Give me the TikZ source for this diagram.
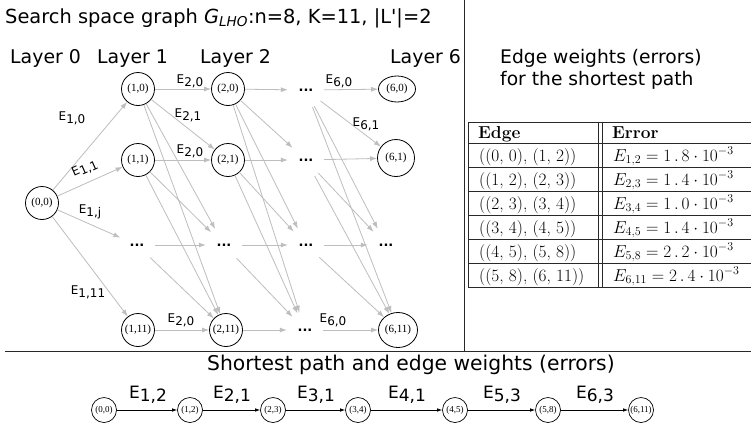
\documentclass[tikz,border=0pt]{standalone}
\usepackage{fontspec}
\newfontfamily\vfont{DejaVu Sans}
\newfontfamily\tfont{Liberation Serif}
\usetikzlibrary{arrows.meta,shapes.geometric}
\definecolor{edgegray}{RGB}{190,190,190}
\definecolor{rulegray}{RGB}{40,40,40}
\newcommand\Esub[1]{E\raisebox{-0.22em}{#1}}
\newcommand\vsz[1]{\vfont\fontsize{#1}{#1}\selectfont}
\newcommand\errval[4]{$E_{#1} = #2\mkern3mu.\mkern3mu#3 \mathbin{\cdot} 10^{-#4}$}
\begin{document}
\begin{tikzpicture}[x=1pt,y=-1pt,
 gnode/.style={circle,draw,line width=0.8pt,minimum size=33pt,inner sep=0pt,font=\tfont\fontsize{11}{11}\selectfont},
 enode/.style={ellipse,draw,line width=0.8pt,inner sep=0pt,font=\tfont\fontsize{11}{11}\selectfont},
 dnode/.style={circle,minimum size=36pt,inner sep=0pt,font=\vsz{13}\bfseries},
 ge/.style={draw=edgegray,line width=0.8pt,-{Latex[length=7pt,width=5pt]}},
 elab/.style={font=\vsz{12},inner sep=0pt},
 hdr/.style={anchor=base west,inner sep=0pt},
 pnode/.style={circle,draw,line width=0.7pt,minimum size=25pt,inner sep=0pt,font=\tfont\fontsize{9}{9}\selectfont},
 pe/.style={draw=black,line width=0.7pt,-{Latex[length=5pt,width=3.5pt]}},
 plab/.style={font=\vsz{17},anchor=base,inner sep=0pt},
 trule/.style={draw=rulegray,line width=0.9pt},
 tcell/.style={anchor=base west,inner sep=0pt,font=\fontsize{17.3}{17.3}\selectfont},
]
\useasboundingbox (0,0) rectangle (751,424);
\fill[white] (0,0) rectangle (751,424);

% titles
\node[hdr,font=\vsz{19.4}] (title) at (5,23) {Search space graph {\itshape G}\textsubscript{\itshape LHO}:n=8, K=11, |L\XeTeXglyph\XeTeXcharglyph"27|=2};
\node[hdr,font=\vsz{18.9}] (lay0) at (10,63) {Layer 0};
\node[hdr,font=\vsz{18.9}] (lay1) at (97,63) {Layer 1};
\node[hdr,font=\vsz{18.9}] (lay2) at (200,63) {Layer 2};
\node[hdr,font=\vsz{18.9}] (lay6) at (390,63) {Layer 6};
\node[hdr,font=\vsz{18.7}] (ew1) at (500,63) {Edge weights (errors)};
\node[hdr,font=\vsz{18.7}] (ew2) at (500,85) {for the shortest path};
\node[hdr,font=\vsz{20.3}] (sp) at (207,370) {Shortest path and edge weights (errors)};

% separators
\draw[rulegray,line width=1pt] (464,0) -- (464,351);
\draw[rulegray,line width=1pt] (5,351) -- (751,351);

% graph nodes
\node[gnode] (n00) at (42,203) {(0,0)};
\node[gnode] (n10) at (138,89) {(1,0)};
\node[gnode] (n11) at (138,160) {(1,1)};
\node[dnode] (d1j) at (137,245) {...};
\node[gnode] (n111) at (138,330) {(1,11)};
\node[gnode] (n20) at (228,89) {(2,0)};
\node[gnode] (n21) at (228,160) {(2,1)};
\node[dnode] (d2j) at (224,245) {...};
\node[gnode] (n211) at (226,330) {(2,11)};
\node[dnode] (d30) at (306,90) {...};
\node[dnode] (d31) at (306,160) {...};
\node[dnode] (d3j) at (306,245) {...};
\node[dnode] (d311) at (305,330) {...};
\node[enode,minimum width=37pt,minimum height=26pt] (n60) at (397,89) {(6,0)};
\node[enode,minimum width=37pt,minimum height=37pt] (n61) at (396,158) {(6,1)};
\node[dnode] (d6j) at (386,245) {...};
\node[enode,minimum width=39pt,minimum height=35pt] (n611) at (398,330) {(6,11)};

% edges layer 0 -> 1
\foreach \t in {n10,n11,d1j,n111} \draw[ge] (n00) -- (\t);
% layer 1 -> 2
\foreach \t in {n20,n21,d2j,n211} \draw[ge] (n10) -- (\t);
\foreach \t in {n21,d2j,n211} \draw[ge] (n11) -- (\t);
\foreach \t in {d2j,n211} \draw[ge] (d1j) -- (\t);
\draw[ge] (n111) -- (n211);
% layer 2 -> 3
\foreach \t in {d30,d31,d3j,d311} \draw[ge] (n20) -- (\t);
\foreach \t in {d31,d3j,d311} \draw[ge] (n21) -- (\t);
\foreach \t in {d3j,d311} \draw[ge] (d2j) -- (\t);
\draw[ge] (n211) -- (d311);
% layer 5 -> 6
\foreach \t in {n60,n61,d6j,n611} \draw[ge] (d30) -- (\t);
\foreach \t in {n61,d6j,n611} \draw[ge] (d31) -- (\t);
\foreach \t in {d6j,n611} \draw[ge] (d3j) -- (\t);
\draw[ge] (d311) -- (n611);

% edge labels
\node[elab] (l10) at (72,118) {\Esub{1,0}};
\node[elab,rotate=24] (l11) at (85,169) {\Esub{1,1}};
\node[elab] (l1j) at (90,212) {\Esub{1,j}};
\node[elab] (l111) at (88,292) {\Esub{1,11}};
\node[elab] (l20a) at (190,81) {\Esub{2,0}};
\node[elab] (l21) at (188,115) {\Esub{2,1}};
\node[elab] (l20b) at (190,151) {\Esub{2,0}};
\node[elab] (l20c) at (181,320) {\Esub{2,0}};
\node[elab] (l60a) at (339,81) {\Esub{6,0}};
\node[elab] (l61) at (366,124) {\Esub{6,1}};
\node[elab] (l60b) at (333,320) {\Esub{6,0}};

% table
\foreach \yy in {122,143,167,191,215,239,263,287} \draw[trule] (468,\yy) -- (751,\yy);
\draw[trule] (468,122) -- (468,287);
\draw[trule] (598,122) -- (598,287);
\draw[trule] (602,122) -- (602,287);
\node[tcell] (h1) at (478,138) {\bfseries Edge};
\node[tcell] (h2) at (612,138) {\bfseries Error};
\node[tcell] (a1) at (479,161) {((0, 0), (1, 2))};
\node[tcell] (a2) at (479,185) {((1, 2), (2, 3))};
\node[tcell] (a3) at (479,209) {((2, 3), (3, 4))};
\node[tcell] (a4) at (479,233) {((3, 4), (4, 5))};
\node[tcell] (a5) at (479,257) {((4, 5), (5, 8))};
\node[tcell] (a6) at (479,281) {((5, 8), (6, 11))};
\node[tcell] (b1) at (613,161) {\errval{1,2}{1}{8}{3}};
\node[tcell] (b2) at (613,185) {\errval{2,3}{1}{4}{3}};
\node[tcell] (b3) at (613,209) {\errval{3,4}{1}{0}{3}};
\node[tcell] (b4) at (613,233) {\errval{4,5}{1}{4}{3}};
\node[tcell] (b5) at (613,257) {\errval{5,8}{2}{2}{3}};
\node[tcell] (b6) at (613,281) {\errval{6,11}{2}{4}{3}};

% shortest path
\node[pnode] (p0) at (104,410) {(0,0)};
\node[pnode] (p1) at (190,410) {(1,2)};
\node[pnode] (p2) at (273,410) {(2,3)};
\node[pnode] (p3) at (358,410) {(3,4)};
\node[pnode] (p4) at (455,410) {(4,5)};
\node[pnode] (p5) at (548,410) {(5,8)};
\node[pnode] (p6) at (641,410) {(6,11)};
\draw[pe] (p0) -- (p1);
\draw[pe] (p1) -- (p2);
\draw[pe] (p2) -- (p3);
\draw[pe] (p3) -- (p4);
\draw[pe] (p4) -- (p5);
\draw[pe] (p5) -- (p6);
\node[plab] (q1) at (148,398) {\Esub{1,2}};
\node[plab] (q2) at (232,398) {\Esub{2,1}};
\node[plab] (q3) at (316,398) {\Esub{3,1}};
\node[plab] (q4) at (407,398) {\Esub{4,1}};
\node[plab] (q5) at (502,398) {\Esub{5,3}};
\node[plab] (q6) at (595,398) {\Esub{6,3}};
\end{tikzpicture}
\end{document}
